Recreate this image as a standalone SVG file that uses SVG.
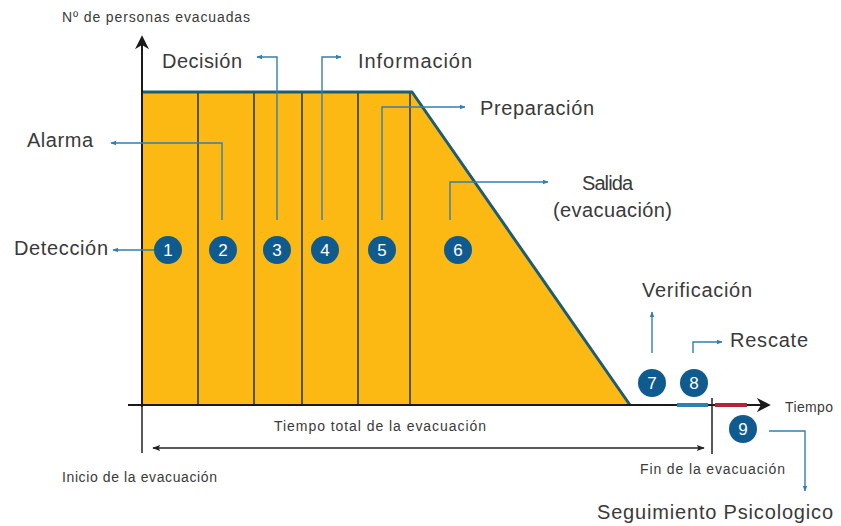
<svg xmlns="http://www.w3.org/2000/svg" width="841" height="526" viewBox="0 0 841 526">
  <style>
    .lbl { font-family: "Liberation Sans", Arial, sans-serif; fill: #3a3a3a; }
    .big { font-size: 20px; }
    .small { font-size: 14px; }
    .num { font-family: "Liberation Sans", Arial, sans-serif; font-size: 17px; fill: #ffffff; text-anchor: middle; }
    .dot { fill: #0f5b8f; }
    .conn { fill: none; stroke: #357db0; stroke-width: 1.4; }
    .div { stroke: #55561f; stroke-width: 2; }
  </style>
  <defs>
    <marker id="tip" viewBox="0 0 10 10" refX="9" refY="5" markerWidth="6" markerHeight="6" orient="auto" markerUnits="userSpaceOnUse">
      <path d="M0,1 L10,5 L0,9 Z" fill="#357db0"/>
    </marker>
    <marker id="axisTip" viewBox="0 0 10 10" refX="8" refY="5" markerWidth="14" markerHeight="14" orient="auto" markerUnits="userSpaceOnUse">
      <path d="M0,0 L10,5 L0,10 L3,5 Z" fill="#1a1a1a"/>
    </marker>
    <marker id="spanTip" viewBox="0 0 10 10" refX="9" refY="5" markerWidth="8" markerHeight="8" orient="auto-start-reverse" markerUnits="userSpaceOnUse">
      <path d="M0,1 L10,5 L0,9 L2,5 Z" fill="#222"/>
    </marker>
  </defs>

  <!-- evacuated-people area -->
  <g id="area">
    <path d="M142,92 L412,92 L630,405 L142,405 Z" fill="#fdb913"/>
    <line class="div" x1="198" y1="93" x2="198" y2="405"/>
    <line class="div" x1="254" y1="93" x2="254" y2="405"/>
    <line class="div" x1="302" y1="93" x2="302" y2="405"/>
    <line class="div" x1="358" y1="93" x2="358" y2="405"/>
    <line class="div" x1="410" y1="93" x2="410" y2="405"/>
    <path d="M142,92 L412,92 L630,405" fill="none" stroke="#1e5d70" stroke-width="3" stroke-linejoin="round"/>
  </g>

  <!-- axes -->
  <g id="axes">
    <line x1="142" y1="407" x2="142" y2="38" stroke="#1a1a1a" stroke-width="2" marker-end="url(#axisTip)"/>
    <line x1="128" y1="405" x2="768" y2="405" stroke="#1a1a1a" stroke-width="2" marker-end="url(#axisTip)"/>
    <line x1="677" y1="405" x2="708" y2="405" stroke="#2f7fb0" stroke-width="4"/>
    <line x1="715" y1="405" x2="747" y2="405" stroke="#b3243b" stroke-width="4"/>
    <line x1="142" y1="405" x2="142" y2="453" stroke="#222" stroke-width="1.5"/>
    <line x1="712" y1="398" x2="712" y2="454" stroke="#222" stroke-width="1.5"/>
    <line x1="153" y1="448" x2="704" y2="448" stroke="#222" stroke-width="1.3" marker-start="url(#spanTip)" marker-end="url(#spanTip)"/>
  </g>

  <!-- connectors from the numbered steps to their labels -->
  <g id="connectors">
    <line class="conn" x1="154" y1="250" x2="113" y2="250" marker-end="url(#tip)"/>
    <polyline class="conn" points="222,220 222,143 111,143" marker-end="url(#tip)"/>
    <polyline class="conn" points="277,220 277,57 257,57" marker-end="url(#tip)"/>
    <polyline class="conn" points="322,220 322,57 341,57" marker-end="url(#tip)"/>
    <polyline class="conn" points="382,220 382,107 465,107" marker-end="url(#tip)"/>
    <polyline class="conn" points="450,220 450,182 548,182" marker-end="url(#tip)"/>
    <line class="conn" x1="652" y1="353" x2="652" y2="312" marker-end="url(#tip)"/>
    <polyline class="conn" points="693,353 693,342 722,342" marker-end="url(#tip)"/>
    <polyline class="conn" points="769,431 805,431 805,491" marker-end="url(#tip)"/>
  </g>

  <!-- numbered steps -->
  <g id="step1"><circle class="dot" cx="168" cy="250" r="14"/><text class="num" x="168" y="256">1</text></g>
  <g id="step2"><circle class="dot" cx="223" cy="250" r="14"/><text class="num" x="223" y="256">2</text></g>
  <g id="step3"><circle class="dot" cx="277" cy="250" r="14"/><text class="num" x="277" y="256">3</text></g>
  <g id="step4"><circle class="dot" cx="325" cy="250" r="14"/><text class="num" x="325" y="256">4</text></g>
  <g id="step5"><circle class="dot" cx="382" cy="250" r="14"/><text class="num" x="382" y="256">5</text></g>
  <g id="step6"><circle class="dot" cx="458" cy="250" r="14"/><text class="num" x="458" y="256">6</text></g>
  <g id="step7"><circle class="dot" cx="652" cy="383" r="14"/><text class="num" x="652" y="389">7</text></g>
  <g id="step8"><circle class="dot" cx="694" cy="383" r="14"/><text class="num" x="694" y="389">8</text></g>
  <g id="step9"><circle class="dot" cx="743" cy="429" r="14"/><text class="num" x="743" y="435">9</text></g>

  <!-- labels -->
  <g id="labels">
    <text class="lbl small" x="62" y="22" textLength="188">Nº de personas evacuadas</text>
    <text class="lbl big" x="162" y="68" textLength="80">Decisión</text>
    <text class="lbl big" x="358" y="68" textLength="114">Información</text>
    <text class="lbl big" x="480" y="115" textLength="114">Preparación</text>
    <text class="lbl big" x="27" y="147" textLength="66">Alarma</text>
    <text class="lbl big" x="582" y="190" textLength="51">Salida</text>
    <text class="lbl big" x="553" y="217" textLength="119">(evacuación)</text>
    <text class="lbl big" x="14" y="255" textLength="94">Detección</text>
    <text class="lbl big" x="642" y="297" textLength="110">Verificación</text>
    <text class="lbl big" x="730" y="347" textLength="78">Rescate</text>
    <text class="lbl small" x="785" y="412" textLength="48">Tiempo</text>
    <text class="lbl small" x="274" y="431" textLength="212">Tiempo total de la evacuación</text>
    <text class="lbl small" x="62" y="482" textLength="155">Inicio de la evacuación</text>
    <text class="lbl small" x="640" y="474" textLength="145">Fin de la evacuación</text>
    <text class="lbl big" x="597" y="519" textLength="236">Seguimiento Psicologico</text>
  </g>
</svg>
